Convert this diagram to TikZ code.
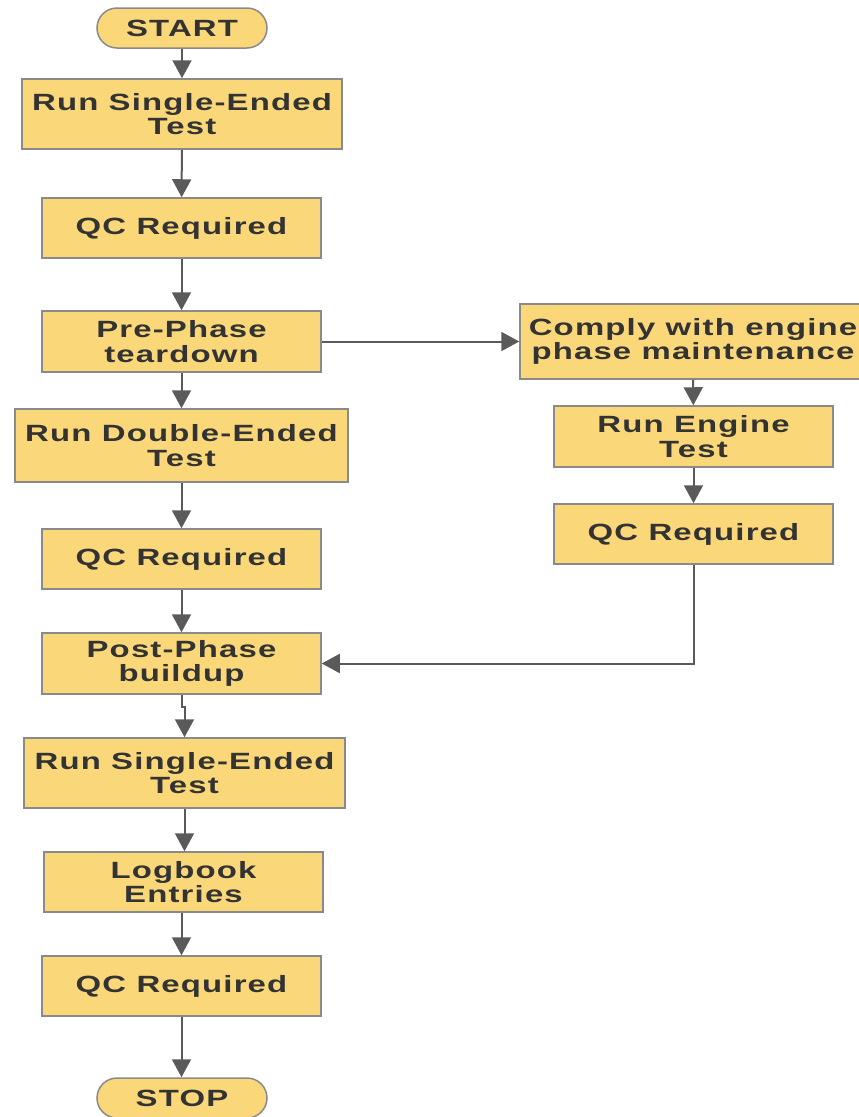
\documentclass[tikz,border=0pt]{standalone}
\usepackage{fontspec}
\setmainfont{Liberation Sans}[FakeStretch=1.4,LetterSpace=5]
\usetikzlibrary{arrows.meta,positioning}
\definecolor{boxfill}{HTML}{FAD87A}
\definecolor{boxline}{HTML}{8A8A8A}
\definecolor{arrowc}{HTML}{5A5A5A}
\definecolor{txt}{HTML}{333333}
\begin{document}
\begin{tikzpicture}[x=1pt,y=-1pt,
  box/.style={draw=boxline,line width=1.5pt,fill=boxfill,rectangle,inner sep=0pt,
    font=\fontsize{23.5}{24.5}\selectfont\bfseries,text=txt,align=center},
  term/.style={box,rounded corners=20pt},
  conn/.style={draw=arrowc,line width=2pt,-{Triangle[length=18pt,width=19pt]}}]
\useasboundingbox (0,0) rectangle (859,1117);
\node[term,minimum width=170pt,minimum height=40pt] (start) at (182,28) {START};
\node[box,minimum width=320pt,minimum height=70pt] (rse1) at (182,114) {Run Single-Ended\\Test};
\node[box,minimum width=279pt,minimum height=60pt] (qc1) at (181.5,228) {QC Required};
\node[box,minimum width=279pt,minimum height=61pt] (pre) at (181.5,341.5) {Pre-Phase\\teardown};
\node[box,minimum width=333pt,minimum height=73pt] (rde) at (181.5,445.5) {Run Double-Ended\\Test};
\node[box,minimum width=279pt,minimum height=60pt] (qc2) at (181.5,559) {QC Required};
\node[box,minimum width=279pt,minimum height=61pt] (post) at (181.5,663.5) {Post-Phase\\buildup};
\node[box,minimum width=321pt,minimum height=70pt] (rse2) at (184.5,773) {Run Single-Ended\\Test};
\node[box,minimum width=279pt,minimum height=60pt] (log) at (183.5,882) {Logbook\\Entries};
\node[box,minimum width=279pt,minimum height=60pt] (qc3) at (181.5,986) {QC Required};
\node[term,minimum width=170pt,minimum height=40pt] (stop) at (182,1098) {STOP};
\node[box,minimum width=346pt,minimum height=75pt] (comply) at (693,341.5) {Comply with engine\\phase maintenance};
\node[box,minimum width=279pt,minimum height=61pt] (eng) at (693.5,436.5) {Run Engine\\Test};
\node[box,minimum width=279pt,minimum height=60pt] (qcr) at (693.5,534) {QC Required};
\draw[conn] (start) -- (rse1);
\draw[conn] (rse1) -- (qc1);
\draw[conn] (qc1) -- (pre);
\draw[conn] (pre) -- (rde);
\draw[conn] (rde) -- (qc2);
\draw[conn] (qc2) -- (post);
\draw[conn] (post.south) -- ++(0,12) -| (rse2.north);
\draw[conn] (rse2.south) -- (log.north -| rse2.south);
\draw[conn] (log.south -| qc3.north) -- (qc3.north);
\draw[conn] (qc3.south) -- (qc3.south |- stop.north);
\draw[conn] (pre) -- (comply);
\draw[conn] (comply) -- (eng);
\draw[conn] (eng) -- (qcr);
\draw[conn] (qcr.south) |- (post.east);
\end{tikzpicture}
\end{document}
